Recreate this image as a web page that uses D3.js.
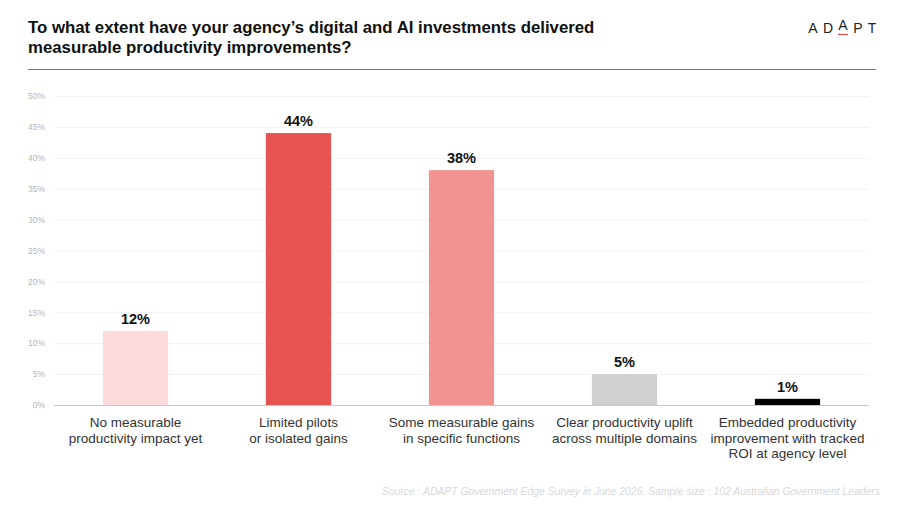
<!DOCTYPE html>
<html><head><meta charset="utf-8">
<script src="https://cdn.jsdelivr.net/npm/d3@7"></script>
<style>body{margin:0;background:#fff;}svg{display:block;font-family:"Liberation Sans",Arial,sans-serif;}</style>
</head><body><svg id="c" width="900" height="506"></svg>
<script>
const titleLines = ["To what extent have your agency\u2019s digital and AI investments delivered", "measurable productivity improvements?"];
const categories = [
  ["No measurable", "productivity impact yet"],
  ["Limited pilots", "or isolated gains"],
  ["Some measurable gains", "in specific functions"],
  ["Clear productivity uplift", "across multiple domains"],
  ["Embedded productivity", "improvement with tracked", "ROI at agency level"]
];
const values = [12, 44, 38, 5, 1];
const barColors = ["#fadada", "#e55451", "#f09391", "#d0d0d0", "#000000"];
const yTicks = [0, 5, 10, 15, 20, 25, 30, 35, 40, 45, 50];
const sourceText = "Source : ADAPT Government Edge Survey in June 2026. Sample size : 102 Australian Government Leaders";

const svg = d3.select("#c");
const x = d3.scaleBand().domain(d3.range(values.length)).range([54, 869]).paddingInner(0.6).paddingOuter(0.3);
const y = d3.scaleLinear().domain([0, 50]).range([405, 96]);

// title
svg.append("text").attr("x", 28).attr("y", 33).attr("font-size", 16.8).attr("font-weight", "bold").attr("fill", "#111")
  .selectAll("tspan").data(titleLines).join("tspan").attr("x", 28).attr("dy", (d, i) => i ? 19.5 : 0).text(d => d);
svg.append("line").attr("x1", 28).attr("x2", 876).attr("y1", 69.5).attr("y2", 69.5).attr("stroke", "#777").attr("stroke-width", 1.2);

// logo
const logo = svg.append("g").attr("font-size", 14).attr("fill", "#222");
const letters = ["A", "D", "A", "P", "T"];
const lx = [813, 828, 843, 858, 872];
letters.forEach((l, i) => {
  logo.append("text").attr("x", lx[i]).attr("y", i === 2 ? 30 : 33).attr("text-anchor", "middle").text(l);
});
logo.append("line").attr("x1", 838).attr("x2", 848).attr("y1", 34.5).attr("y2", 34.5).attr("stroke", "#d9534f").attr("stroke-width", 1.2);

// grid
const yAxis = d3.axisLeft(y).tickValues(yTicks).tickFormat(d => d + "%").tickSize(-(869 - 54)).tickPadding(9);
const ga = svg.append("g").attr("transform", "translate(54,0)").call(yAxis);
ga.select(".domain").remove();
ga.selectAll(".tick line").attr("stroke", "#f2f2f2");
ga.selectAll(".tick text").attr("fill", "#b5b5b5").attr("font-size", 8.5);
svg.append("line").attr("x1", 54).attr("x2", 869).attr("y1", y(0) + 0.5).attr("y2", y(0) + 0.5).attr("stroke", "#c8c8c8");

// bars
svg.selectAll("rect.bar").data(values).join("rect").attr("class", "bar")
  .attr("x", (d, i) => x(i)).attr("width", x.bandwidth())
  .attr("y", d => y(d)).attr("height", d => y(0) - y(d))
  .attr("fill", (d, i) => barColors[i]);

svg.selectAll("text.val").data(values).join("text").attr("class", "val")
  .attr("x", (d, i) => x(i) + x.bandwidth() / 2).attr("y", d => y(d) - 7)
  .attr("text-anchor", "middle").attr("font-size", 14.5).attr("font-weight", "bold").attr("fill", "#111")
  .text(d => d + "%");

// category labels
const cl = svg.selectAll("text.cat").data(categories).join("text").attr("class", "cat")
  .attr("x", (d, i) => x(i) + x.bandwidth() / 2).attr("y", 427)
  .attr("text-anchor", "middle").attr("font-size", 13.5).attr("fill", "#333");
cl.selectAll("tspan").data((d, i) => d.map(t => ({t, i}))).join("tspan")
  .attr("x", d => x(d.i) + x.bandwidth() / 2).attr("dy", (d, j) => j ? 15.5 : 0).text(d => d.t);

// source
svg.append("text").attr("x", 880).attr("y", 495).attr("text-anchor", "end").attr("font-size", 10.4)
  .attr("font-style", "italic").attr("fill", "#d8d8d8").text(sourceText);
</script></body></html>
